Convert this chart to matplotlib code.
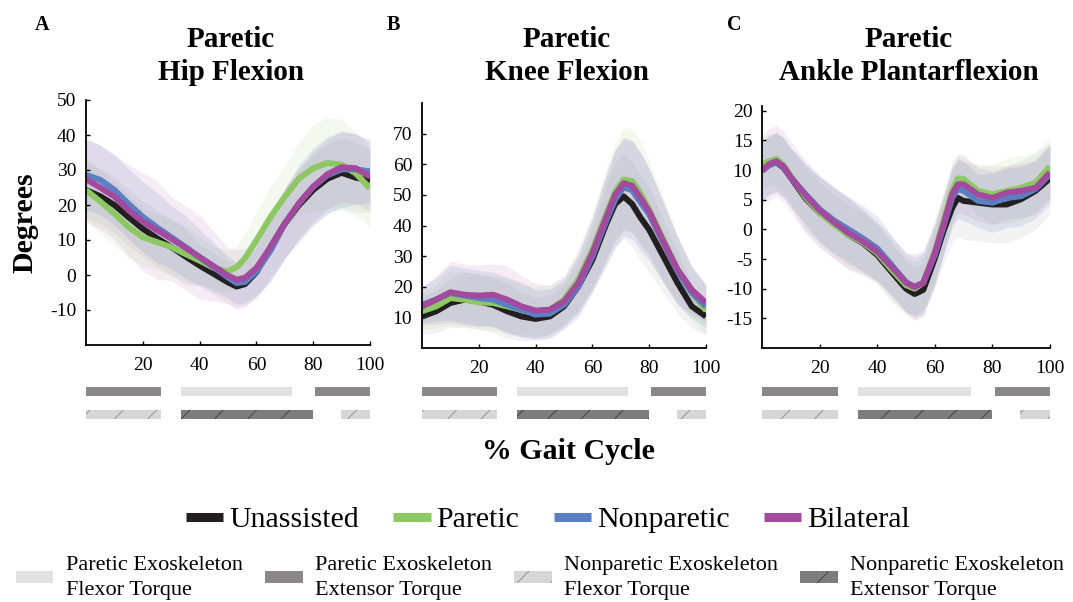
import matplotlib
matplotlib.use('Agg')
import matplotlib.pyplot as plt
from matplotlib.lines import Line2D
from matplotlib.patches import Patch
import numpy as np

plt.rcParams['font.family'] = ['Liberation Serif', 'DejaVu Serif']
plt.rcParams['axes.unicode_minus'] = False
plt.rcParams['hatch.linewidth'] = 0.6

# ---------------- data ----------------
conditions = ['Unassisted', 'Paretic', 'Nonparetic', 'Bilateral']
colors = ['#231f20', '#8dc863', '#5b7fc3', '#a24a9d']
band_alpha = [0.05, 0.1, 0.15, 0.1]

# Hip flexion (deg)
hip_x = [0, 5, 10, 15, 20, 25, 30, 35, 40, 45, 50, 53, 56, 60, 65, 70, 75, 80, 85, 90, 95, 100]
hip_unassisted = [24.3, 22.5, 20, 16.5, 13.2, 10.5, 8, 5.3, 2.7, 0.3, -2.1, -3.3, -2.6, 0.8, 8, 14.7, 20, 24.3, 27.5, 29.2, 27.8, 27]
hip_paretic = [24.3, 21, 17.5, 13.7, 10.8, 9.4, 8, 6, 4.1, 2, 1.0, 2.2, 4.8, 9.9, 16.6, 22.4, 27.6, 30.5, 32, 31.5, 29, 24.8]
hip_nonparetic = [28.6, 27.2, 24.3, 20.3, 16.6, 13.6, 10.8, 8, 5.1, 2.2, -0.7, -2.3, -2.0, 1, 7, 14.7, 20.5, 25.2, 28.5, 30.2, 30.2, 29.6]
hip_bilateral = [27.4, 25, 22.4, 18.5, 15.2, 12.8, 10.4, 7.8, 5.1, 2.5, -0.2, -1.3, -0.8, 2, 8, 14.7, 20.5, 25.2, 28.8, 30.8, 30.5, 28.1]
hip_unassisted_sd = [8, 8, 8, 8, 8, 8, 8, 8, 6, 6, 6, 6, 6, 8, 9, 10, 10, 10, 10, 10, 10, 9]
hip_paretic_sd = [9, 9, 9, 9, 8, 8, 8, 8, 7, 6, 6, 6, 7, 8, 9, 9, 10.5, 12.5, 13, 13, 12, 11]
hip_nonparetic_sd = [10, 10, 10, 10, 10, 10, 9, 9, 8, 7, 6, 6, 6, 7, 9, 10, 11, 11, 11, 11, 10, 9]
hip_bilateral_sd = [12, 12, 12, 13, 14, 14, 12, 12, 12, 10, 8, 8.5, 8.5, 8, 9, 10, 10, 10, 10, 10, 10, 10]

# Knee flexion (deg)
knee_x = [0, 5, 10, 15, 20, 25, 30, 35, 40, 45, 50, 55, 60, 65, 68, 71, 74, 77, 80, 85, 90, 95, 100]
knee_unassisted = [10.3, 12, 14.7, 15.8, 15.2, 14.1, 12, 10.3, 9.5, 10.3, 13.6, 20.1, 28.8, 40.8, 47, 49.5, 47, 42.5, 38.6, 29.9, 21.2, 13.6, 10.3]
knee_paretic = [12, 13.6, 16.3, 15.8, 14.9, 14.7, 13.6, 12.5, 12, 12.5, 15.8, 22.3, 32.1, 44.1, 51, 55, 54.5, 50.5, 45.2, 35.4, 25.6, 18, 12.3]
knee_nonparetic = [14.1, 15.8, 18, 17.1, 16.3, 15.8, 14.1, 12.5, 10.9, 11.2, 14.1, 20.1, 30, 41.9, 48.5, 52.5, 51.5, 47.5, 43.6, 34.3, 25, 18, 13.6]
knee_bilateral = [13.6, 15.8, 18.2, 17.4, 17.1, 17.4, 15.8, 13.6, 12.2, 12.5, 15.2, 21.2, 31, 43, 50, 53.8, 53, 49, 44.6, 34.8, 25.6, 19, 14.7]
knee_unassisted_sd = [6, 7, 8, 9, 9, 9, 9, 8, 7, 7, 7, 8, 10, 13, 14, 14, 14, 14, 14, 12, 10, 7, 6]
knee_paretic_sd = [6, 7, 9, 9, 9, 9, 9, 8, 8, 8, 8, 10, 12, 15, 16, 17, 17, 17, 16, 14, 11, 9, 8]
knee_nonparetic_sd = [6, 7, 9, 9, 9, 9, 9, 9, 8, 8, 8, 10, 12, 15, 16, 16, 16, 16, 15, 13, 11, 8, 7]
knee_bilateral_sd = [6, 8, 10, 10, 10, 10, 11, 10, 9, 8, 8, 10, 12, 14, 15, 15, 15, 15, 14, 13, 11, 8, 6]

# Ankle plantarflexion (deg)
ankle_x = [0, 2.5, 5, 7.5, 10, 15, 20, 25, 30, 35, 40, 45, 50, 53, 56, 60, 63, 66, 68, 70, 75, 80, 85, 90, 95, 100]
ankle_unassisted = [9.9, 11, 11.3, 10.4, 8.75, 5.3, 2.8, 1.1, -0.9, -2.3, -4.3, -7.2, -10, -10.9, -10.2, -4.9, -0.3, 3.6, 5.3, 4.8, 4.5, 4.2, 4.2, 5.1, 6.5, 8.6]
ankle_paretic = [11, 11.5, 11.9, 10.8, 9, 5.5, 2.8, 0.8, -0.9, -2.2, -4, -6.8, -9.4, -10, -9, -3.75, 1.4, 6.5, 8.6, 8.5, 6.5, 5.9, 6.5, 7, 7.9, 10.6]
ankle_nonparetic = [9.9, 10.8, 11.3, 10.5, 8.75, 6, 3.4, 1.5, 0, -1.5, -3.2, -6, -8.9, -9.7, -9, -4.3, 0.5, 5.3, 6.8, 6.5, 4.8, 4.5, 5.3, 5.6, 6.8, 9.3]
ankle_bilateral = [9.9, 11, 11.5, 10.6, 8.75, 5.8, 3.2, 1.2, -0.6, -2, -3.75, -6.3, -9, -9.7, -9, -4, 0.8, 5.9, 7.6, 7.6, 5.9, 5.3, 6.2, 6.5, 7, 9.6]
ankle_unassisted_sd = [5, 5, 5, 5, 5, 6, 6, 6, 6, 5.5, 5, 5, 4.5, 4.5, 4.5, 5, 5.5, 6, 6.5, 6.5, 6.5, 6.5, 6.5, 6.5, 6.5, 6]
ankle_paretic_sd = [4, 4, 4.5, 4.5, 4.5, 5, 5, 5, 5, 5, 5, 5, 4.5, 4.5, 4.5, 5, 5, 5, 4, 3.5, 4, 5, 5.5, 5.5, 5, 5]
ankle_nonparetic_sd = [5, 5, 5, 5, 5, 5, 5.5, 5.5, 5.5, 5.5, 5.5, 5, 5, 5, 5, 5, 5, 5, 5, 5, 4.5, 5, 5, 5, 5, 5]
ankle_bilateral_sd = [6, 6, 6, 6, 6, 6, 6, 6, 6, 5.5, 5, 5, 5, 5.5, 5.5, 5.5, 5, 5, 5, 5, 4.5, 4.5, 4.5, 4.5, 4.5, 4.5]

# Exoskeleton torque timing (% gait cycle: start, end)
paretic_flexor = [(33.5, 72.7)]
paretic_extensor = [(0, 26.3), (80.8, 100)]
nonparetic_flexor = [(0, 26.3), (89.7, 100)]
nonparetic_extensor = [(33.5, 79.8)]

titles = ['Paretic\nHip Flexion', 'Paretic\nKnee Flexion', 'Paretic\nAnkle Plantarflexion']
letters = ['A', 'B', 'C']
xticks = [20, 40, 60, 80, 100]
hip_yticks = [-10, 0, 10, 20, 30, 40, 50]
knee_yticks = [10, 20, 30, 40, 50, 60, 70]
ankle_yticks = [-15, -10, -5, 0, 5, 10, 15, 20]

# ---------------- layout ----------------
W, H, DPI = 1073, 602, 100
fig = plt.figure(figsize=(W / DPI, H / DPI), dpi=DPI)

def rect(l, r, t, b):
    return [l / W, 1 - b / H, (r - l) / W, (b - t) / H]

panels = [
    dict(box=(86, 370, 100, 345), ylim=(-20, 50), yticks=hip_yticks, x=hip_x,
         means=[hip_unassisted, hip_paretic, hip_nonparetic, hip_bilateral],
         sds=[hip_unassisted_sd, hip_paretic_sd, hip_nonparetic_sd, hip_bilateral_sd],
         letter_x=35),
    dict(box=(422, 706, 103, 348), ylim=(0, 80), yticks=knee_yticks, x=knee_x,
         means=[knee_unassisted, knee_paretic, knee_nonparetic, knee_bilateral],
         sds=[knee_unassisted_sd, knee_paretic_sd, knee_nonparetic_sd, knee_bilateral_sd],
         letter_x=387),
    dict(box=(762, 1050, 106, 348), ylim=(-20, 20.8), yticks=ankle_yticks, x=ankle_x,
         means=[ankle_unassisted, ankle_paretic, ankle_nonparetic, ankle_bilateral],
         sds=[ankle_unassisted_sd, ankle_paretic_sd, ankle_nonparetic_sd, ankle_bilateral_sd],
         letter_x=727),
]

for i, p in enumerate(panels):
    l, r, t, b = p['box']
    ax = fig.add_axes(rect(l, r, t, b))
    x = np.array(p['x'], dtype=float)
    for m, s, c, a in zip(p['means'], p['sds'], colors, band_alpha):
        m = np.array(m); s = np.array(s)
        ax.fill_between(x, m - s, m + s, color=c, alpha=a, lw=0)
    for m, c in zip(p['means'], colors):
        ax.plot(x, m, color=c, lw=4.3, solid_capstyle='butt', solid_joinstyle='round')
    ax.set_xlim(0, 100)
    ax.set_ylim(*p['ylim'])
    ax.set_xticks(xticks)
    ax.set_yticks(p['yticks'])
    ax.set_xticklabels([str(v) for v in xticks])
    ax.set_yticklabels([str(v) for v in p['yticks']])
    for sp in ['top', 'right']:
        ax.spines[sp].set_visible(False)
    for sp in ['left', 'bottom']:
        ax.spines[sp].set_linewidth(1.3)
    ax.tick_params(axis='both', direction='in', length=3, width=1, labelsize=14)
    ax.tick_params(axis='x', pad=8.5)
    ax.tick_params(axis='y', pad=7)
    ax.patch.set_alpha(0)

    # title and panel letter
    fig.text(((l + r) / 2 + 3) / W, 1 - 80 / H, titles[i], ha='center', va='baseline',
             fontsize=21, fontweight='bold', linespacing=1.27)
    fig.text(p['letter_x'] / W, 1 - 30 / H, letters[i], ha='left', va='baseline',
             fontsize=14.5, fontweight='bold')

    # torque timing bars
    bx = fig.add_axes(rect(l, r, 385, 421))
    bx.set_xlim(0, 100)
    bx.set_ylim(0, 36)
    bx.axis('off')
    bx.broken_barh([(s0, s1 - s0) for s0, s1 in paretic_extensor], (25, 9),
                   facecolor='#8b8687', lw=0)
    bx.broken_barh([(s0, s1 - s0) for s0, s1 in paretic_flexor], (25, 9),
                   facecolor='#e1e1e1', lw=0)
    bx.broken_barh([(s0, s1 - s0) for s0, s1 in nonparetic_flexor], (2, 9),
                   facecolor='#d6d6d6', edgecolor='#8a8a8a', hatch='/', lw=0)
    bx.broken_barh([(s0, s1 - s0) for s0, s1 in nonparetic_extensor], (2, 9),
                   facecolor='#7e7c7d', edgecolor='#3a3a3a', hatch='/', lw=0)

fig.text(25 / W, 1 - 223 / H, 'Degrees', rotation=90, ha='center', va='center',
         fontsize=21.5, fontweight='bold')
fig.text(568 / W, 1 - 459 / H, '% Gait Cycle', ha='center', va='baseline',
         fontsize=21.5, fontweight='bold')

# legends
h1 = [Line2D([0], [0], color=c, lw=6.5, solid_capstyle='butt') for c in colors]
leg1 = fig.legend(h1, conditions, loc='center', bbox_to_anchor=(548 / W, 1 - 520 / H),
                  ncol=4, frameon=False, fontsize=21.5, handlelength=1.25,
                  handletextpad=0.2, columnspacing=1.15, borderpad=0, borderaxespad=0)

h2 = [Patch(facecolor='#e1e1e1', lw=0),
      Patch(facecolor='#8b8687', lw=0),
      Patch(facecolor='#d6d6d6', edgecolor='#8a8a8a', hatch='/', lw=0),
      Patch(facecolor='#7e7c7d', edgecolor='#3a3a3a', hatch='/', lw=0)]
labels2 = ['Paretic Exoskeleton\nFlexor Torque', 'Paretic Exoskeleton\nExtensor Torque',
           'Nonparetic Exoskeleton\nFlexor Torque', 'Nonparetic Exoskeleton\nExtensor Torque']
leg2 = fig.legend(h2, labels2, loc='center', bbox_to_anchor=(540 / W, 1 - 578 / H),
                  ncol=4, frameon=False, fontsize=16, handlelength=1.7, handleheight=0.45,
                  handletextpad=0.55, columnspacing=1.0, borderpad=0, borderaxespad=0)
for txt in leg2.get_texts():
    txt.set_linespacing(1.42)

fig.savefig('out.png', dpi=DPI)
